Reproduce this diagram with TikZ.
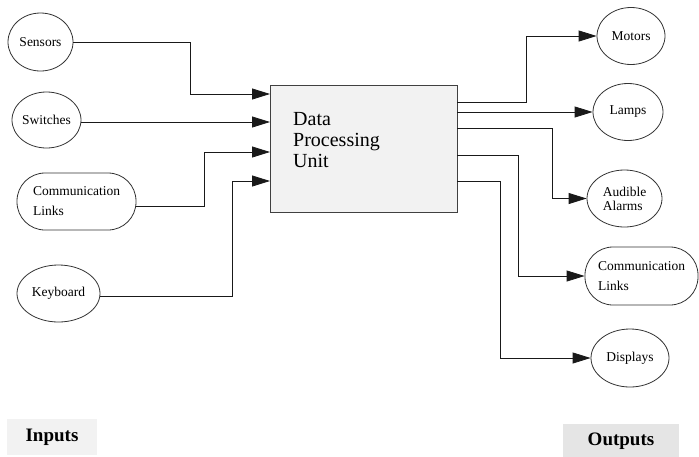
\documentclass[tikz,border=0pt]{standalone}
\usepackage{fontspec}
\setmainfont{Liberation Serif}
\usetikzlibrary{shapes.geometric,arrows.meta}

\tikzset{
	io/.style={draw=black!80, line width=0.8pt, ellipse, inner sep=0pt, font=\fontsize{13.5}{20}\selectfont},
	link/.style={draw=black!80, line width=0.8pt, rounded corners=28pt, inner sep=0pt, align=left, font=\fontsize{13.5}{20}\selectfont},
	flow/.style={black!90, line width=0.8pt, -{Triangle[length=18pt,width=11pt]}},
	tag/.style={inner sep=0pt, font=\fontsize{19}{20}\selectfont\bfseries}
}

\begin{document}
\begin{tikzpicture}[x=1pt, y=-1pt]
	\useasboundingbox (0,0) rectangle (699,456);
	
	% processing unit
	\node[draw=black!75, fill=black!5, line width=0.8pt, minimum width=187pt, minimum height=127pt, inner sep=0pt] (dpu) at (363.5,148.5) {};
	\node[anchor=north west, inner sep=0pt, align=left, font=\fontsize{20}{21}\selectfont] (dputxt) at (293,112) {Data\\Processing\\Unit};
	
	% ports on the box
	\foreach \x/\y in
	{in1/94, in2/122, in3/152, in4/181}{
		\coordinate (\x) at (270,\y);
	}
	\foreach \x/\y in
	{out1/102, out2/112, out3/128, out4/155, out5/181}{
		\coordinate (\x) at (457,\y);
	}
	
	% inputs
	\node[io, minimum width=65pt, minimum height=58pt] (sens) at (40.5,42) {Sensors};
	\node[io, minimum width=69pt, minimum height=56pt] (swit) at (46.5,120) {Switches};
	\node[link, minimum width=119pt, minimum height=57pt] (commin) at (76.5,201.5) {Communication\\Links};
	\node[io, minimum width=83pt, minimum height=57pt] (keyb) at (58.5,293.5) {Keyboard};
	
	% outputs
	\node[io, minimum width=68pt, minimum height=57pt] (mot) at (631,36) {Motors};
	\node[io, minimum width=70pt, minimum height=57pt] (lamp) at (628,112) {Lamps};
	\node[io, minimum width=75pt, minimum height=57pt, align=left, font=\fontsize{13.5}{14}\selectfont] (alarm) at (624.5,198.5) {Audible\\Alarms};
	\node[link, minimum width=113pt, minimum height=58pt] (commout) at (641.5,276) {Communication\\Links};
	\node[io, minimum width=78pt, minimum height=58pt] (disp) at (630,358) {Displays};
	
	% captions
	\node[tag, fill=black!5, minimum width=90pt, minimum height=36pt] (inlbl) at (52,437) {Inputs};
	\node[tag, fill=black!10, minimum width=116pt, minimum height=34pt] (outlbl) at (621,441) {Outputs};
	
	% connectors in
	\draw[flow] (sens.east) -| ([xshift=-80pt]in1) -- (in1);
	\draw[flow] (in2 -| swit.east) -- (in2);
	\draw[flow] ([yshift=-5pt]commin.east) -| ([xshift=-66pt]in3) -- (in3);
	\draw[flow] ([yshift=-3pt]keyb.east) -| ([xshift=-38pt]in4) -- (in4);
	
	% connectors out
	\draw[flow] (out1) -| ([xshift=-70pt]mot.west) -- (mot.west);
	\draw[flow] (out2) -- (lamp.west);
	\draw[flow] (out3) -| ([xshift=-34pt]alarm.west) -- (alarm.west);
	\draw[flow] (out4) -| ([xshift=-66pt]commout.west) -- (commout.west);
	\draw[flow] (out5) -| ([xshift=-90pt]disp.west) -- (disp.west);
\end{tikzpicture}
\end{document}
